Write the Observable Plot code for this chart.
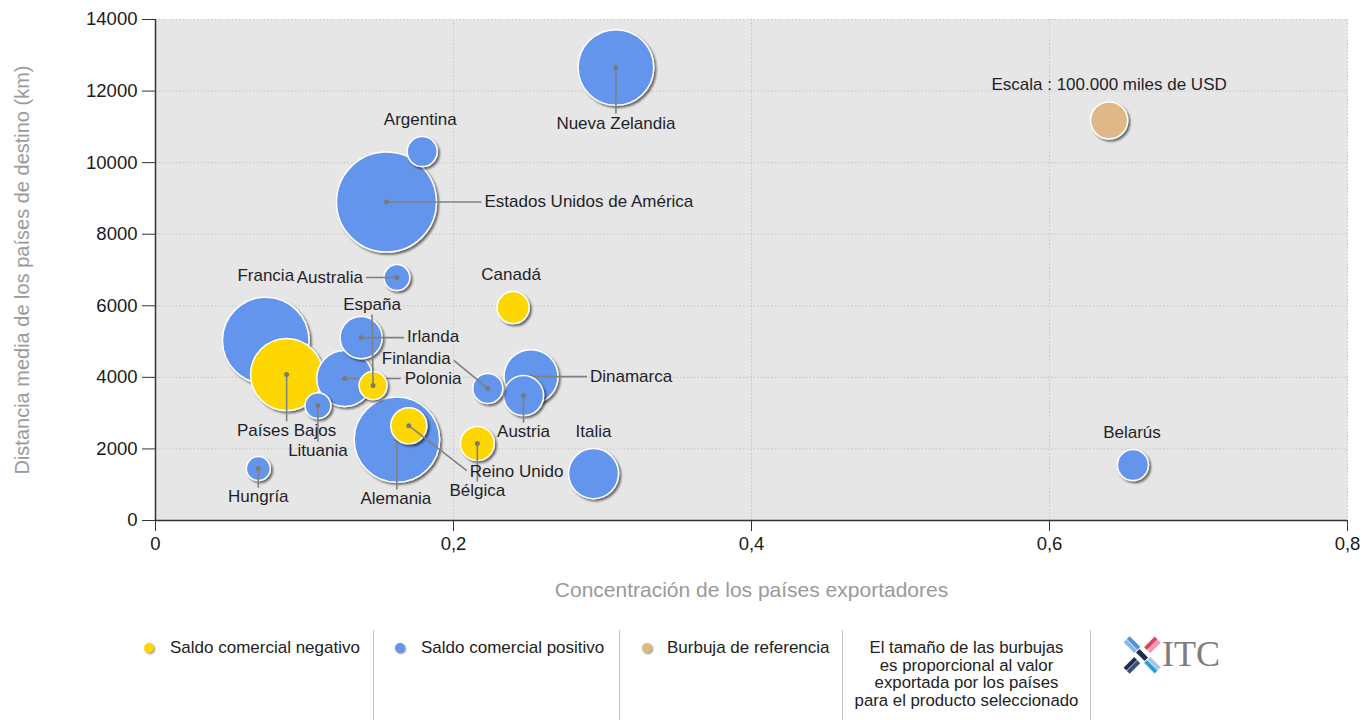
<!DOCTYPE html>
<html><head><meta charset="utf-8">
<script src="https://cdn.jsdelivr.net/npm/d3@7"></script>
<script src="https://cdn.jsdelivr.net/npm/@observablehq/plot@0.6"></script>
<style>
body{margin:0;background:#fff;font-family:"Liberation Sans",Arial,sans-serif;}
#legend{position:relative;width:1364px;height:105px;font-size:17px;color:#222;}
#legend .sep{position:absolute;top:15px;width:1px;height:90px;background:#c4c4c4;}
#legend .ldot{position:absolute;top:28px;width:10px;height:10px;border-radius:50%;box-shadow:1px 1px 2px rgba(0,0,0,0.45);}
#legend .ltxt{position:absolute;top:23px;line-height:20px;white-space:nowrap;}
#legend .note{position:absolute;left:843px;width:247px;top:24px;text-align:center;line-height:17.7px;font-size:16.8px;white-space:nowrap;}
</style></head><body>
<div id="chart"></div>
<div id="legend">
  <span class="ldot" style="left:144px;background:#FFD700"></span><span class="ltxt" style="left:170px">Saldo comercial negativo</span>
  <div class="sep" style="left:373px"></div>
  <span class="ldot" style="left:395px;background:#6495ED"></span><span class="ltxt" style="left:421px">Saldo comercial positivo</span>
  <div class="sep" style="left:619px"></div>
  <span class="ldot" style="left:642px;background:#DEB887"></span><span class="ltxt" style="left:667px">Burbuja de referencia</span>
  <div class="sep" style="left:842px"></div>
  <div class="note">El tamaño de las burbujas<br>es proporcional al valor<br>exportada por los países<br>para el producto seleccionado</div>
  <div class="sep" style="left:1090px"></div>
  <svg style="position:absolute;left:1122px;top:18px" width="110" height="44" viewBox="0 0 110 44">
    <g transform="translate(20,22) rotate(45)">
      <rect x="-4" y="-22" width="4" height="15" fill="#e8405e"/>
      <rect x="0.5" y="-22" width="4" height="15" fill="#f29bb0"/>
      <rect x="-4" y="7" width="4" height="15" fill="#1e2d4e"/>
      <rect x="0.5" y="7" width="4" height="15" fill="#3b4f78"/>
    </g>
    <g transform="translate(20,22) rotate(-45)">
      <rect x="-4" y="-22" width="4" height="15" fill="#8db7e6"/>
      <rect x="0.5" y="-22" width="4" height="15" fill="#4f93d8"/>
      <rect x="-4" y="7" width="4" height="15" fill="#2f9ad6"/>
      <rect x="0.5" y="7" width="4" height="15" fill="#a6c8ea"/>
      <rect x="-2.5" y="-6" width="5" height="12" fill="#1e2d4e"/>
    </g>
    <text x="40" y="33" font-family="Liberation Serif, serif" font-size="36" fill="#7d7d7d">ITC</text>
  </svg>
</div>
<script>
// ---- data ----
const countries = ["Estados Unidos de América","Francia","Alemania","Nueva Zelandia","Países Bajos","Polonia","Dinamarca","Italia","Irlanda","Austria","Reino Unido","Bélgica","Canadá","Belarús","Argentina","Finlandia","España","Australia","Lituania","Hungría"];
const concentration = [0.155,0.074,0.162,0.309,0.088,0.127,0.252,0.294,0.138,0.247,0.170,0.216,0.240,0.656,0.179,0.223,0.146,0.162,0.109,0.069];
const distance = [8900,5030,2260,12660,4080,3970,4020,1310,5110,3490,2650,2150,5950,1550,10310,3690,3770,6790,3210,1450];
const exportValue = [730000,548000,533000,418000,379000,229000,213000,183000,129000,117000,95000,84000,75000,70000,66000,66000,57000,49000,49000,42000];
const balance = ["pos","pos","pos","pos","neg","pos","pos","pos","pos","pos","neg","neg","neg","pos","pos","pos","neg","pos","pos","pos"];
const refLabel = "Escala : 100.000 miles de USD";
const refX = 0.64, refY = 11180, refValue = 100000;
const xTicks = [0,0.2,0.4,0.6,0.8];
const yTicks = [0,2000,4000,6000,8000,10000,12000,14000];
const xTitle = "Concentración de los países exportadores";
const yTitle = "Distancia media de los países de destino (km)";

// ---- label layout (pixel offsets from bubble centre): [textDx, textDy, anchor, lineDx, lineDy] ----
const labelLayout = {
  "Estados Unidos de América": [98,0,"start",95,0],
  "Francia": [0,-65,"middle"],
  "Alemania": [-1,59,"middle",0,50],
  "Nueva Zelandia": [0,56,"middle",0,46],
  "Países Bajos": [0,56,"middle",0,47],
  "Polonia": [60,0,"start",56,0],
  "Dinamarca": [59,0,"start",56,0],
  "Italia": [0,-42,"middle"],
  "Irlanda": [46,-1,"start",43,0],
  "Austria": [0,36,"middle",0,27],
  "Reino Unido": [61,46,"start",58,45],
  "Bélgica": [0,47,"middle",0,38],
  "Canadá": [-2,-33,"middle"],
  "Belarús": [-1,-32,"middle"],
  "Argentina": [-2,-32,"middle"],
  "Finlandia": [-37,-30,"end",-34,-28],
  "España": [-1,-81,"middle",-1,-71],
  "Australia": [-34,0,"end",-31,0],
  "Lituania": [0,45,"middle",0,36],
  "Hungría": [0,28,"middle",0,19],
  [refLabel]: [0,-36,"middle"]
};

const W = 1364, H = 615, ML = 155, MR = 17, MT = 19, MB = 95;
const xDomain = [0, 0.8], yDomain = [0, 14000];
const kx = (W - ML - MR) / (xDomain[1] - xDomain[0]);
const ky = (H - MT - MB) / (yDomain[1] - yDomain[0]);

const rows = countries.map((name, i) => ({name, x: concentration[i], y: distance[i], value: exportValue[i], cat: balance[i]}));
rows.push({name: refLabel, x: refX, y: refY, value: refValue, cat: "ref"});
for (const r of rows) {
  const L = labelLayout[r.name];
  r.tx = r.x + L[0] / kx; r.ty = r.y - L[1] / ky; r.anchor = L[2];
  if (L.length > 3) { r.lx = r.x + L[3] / kx; r.ly = r.y - L[4] / ky; r.line = true; }
}
const ordered = rows.slice().sort((a, b) => b.value - a.value);

const bubbleMarks = [];
for (const r of ordered) {
  bubbleMarks.push(Plot.dot([r], {x: "x", y: "y", r: "value", fill: "cat", stroke: "white", strokeWidth: 1.5, ariaDescription: "bubble"}));
  if (r.line) {
    bubbleMarks.push(Plot.link([r], {x1: "x", y1: "y", x2: "lx", y2: "ly", stroke: "#808080", strokeWidth: 1.6}));
    bubbleMarks.push(Plot.dot([r], {x: "x", y: "y", r: 2.5, fill: "#7a7a7a"}));
  }
}

const fmtX = d => d === 0 ? "0" : String(d).replace(".", ",");
const labelStyle = {fill: "#1f1f2a", fontSize: 17};

const chart = Plot.plot({
  width: W, height: H,
  marginLeft: ML, marginRight: MR, marginTop: MT, marginBottom: MB,
  style: {fontFamily: "Liberation Sans, Arial, sans-serif", fontSize: "16px", background: "white", overflow: "visible"},
  x: {domain: xDomain, axis: null},
  y: {domain: yDomain, axis: null},
  r: {type: "sqrt", domain: [0, refValue], range: [0, 18.5]},
  color: {domain: ["neg", "pos", "ref"], range: ["#FFD700", "#6495ED", "#DEB887"]},
  marks: [
    Plot.frame({fill: "#e6e6e6", stroke: null}),
    Plot.gridY(yTicks, {stroke: "#c6c6c6", strokeOpacity: 1, strokeDasharray: "1.5,2"}),
    Plot.gridX(xTicks, {stroke: "#c6c6c6", strokeOpacity: 1, strokeDasharray: "1.5,2"}),
    Plot.axisY(yTicks, {tickSize: 13, tickPadding: 5, fontSize: 18.5, tickFormat: d => String(d), color: "#1a1a1a", stroke: "#333"}),
    Plot.axisX(xTicks, {tickSize: 11, tickPadding: 5, fontSize: 18.5, tickFormat: fmtX, color: "#1a1a1a", stroke: "#333"}),
    Plot.ruleX([0], {stroke: "#333", strokeWidth: 1.5}),
    Plot.ruleY([0], {stroke: "#333", strokeWidth: 1.5}),
    Plot.text([xTitle], {frameAnchor: "bottom", textAnchor: "middle", dy: 76, fill: "#9a9a9a", fontSize: 21}),
    Plot.text([yTitle], {frameAnchor: "left", textAnchor: "middle", rotate: -90, dx: -133, fill: "#9a9a9a", fontSize: 20}),
    ...bubbleMarks,
    Plot.text(rows.filter(r => r.anchor === "middle"), {x: "tx", y: "ty", text: "name", textAnchor: "middle", ...labelStyle}),
    Plot.text(rows.filter(r => r.anchor === "start"), {x: "tx", y: "ty", text: "name", textAnchor: "start", ...labelStyle}),
    Plot.text(rows.filter(r => r.anchor === "end"), {x: "tx", y: "ty", text: "name", textAnchor: "end", ...labelStyle})
  ]
});

// drop shadow per bubble
const ns = "http://www.w3.org/2000/svg";
const defs = document.createElementNS(ns, "defs");
defs.innerHTML = '<filter id="bshadow" x="-30%" y="-30%" width="170%" height="170%"><feDropShadow dx="2" dy="2" stdDeviation="1.3" flood-color="#000" flood-opacity="0.55"/></filter>';
chart.insertBefore(defs, chart.firstChild);
chart.querySelectorAll('g[aria-description="bubble"] circle').forEach(c => c.setAttribute("filter", "url(#bshadow)"));

document.getElementById("chart").appendChild(chart);
</script>
</body></html>
